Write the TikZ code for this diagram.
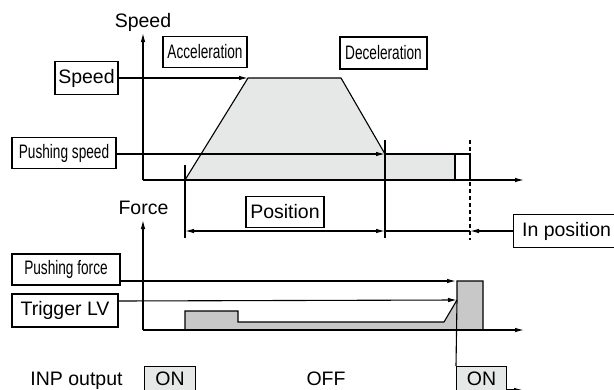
\documentclass[tikz,border=0pt]{standalone}
\usepackage{graphicx}
\usepackage{fontspec}
\setmainfont{Liberation Sans}
\usetikzlibrary{arrows.meta}
\definecolor{lightfill}{HTML}{E6E8E8}
\definecolor{forcefill}{HTML}{C8C8C8}
\newcommand{\narrowtext}[1]{\scalebox{0.7}[1]{#1}}

\begin{document}
\begin{tikzpicture}[x=1pt,y=-1pt,line width=1.1pt,
    >={Latex[length=9pt,width=4.5pt]},
    every node/.style={font=\fontsize{19.5}{22}\selectfont},
    labelbox/.style={draw,inner sep=0pt,minimum height=31pt},
    narrow/.style={font=\fontsize{19.5}{22}\selectfont},
    onbox/.style={draw,fill=lightfill,inner sep=0pt,anchor=north west,minimum height=25pt}]
      \useasboundingbox (0,0) rectangle (614,389);

      % speed profile
      \coordinate (o1) at (143,180);
      \coordinate (a) at (185,180);
      \coordinate (b) at (248,78);
      \coordinate (c) at (341,78);
      \coordinate (d) at (385,154);
      \coordinate (e) at (455,154);
      \coordinate (f) at (470,154);
      \draw[fill=lightfill] (a) -- (b) -- (c) -- (d) -- (e) -- (455,180) -- cycle;
      \draw (e) rectangle (470,180);
      \draw[->] (o1) -- (143,33);
      \draw[->] (o1) -- (524,180);
      \node[anchor=base] (speedaxis) at (143,27) {Speed};

      \node[labelbox,minimum width=63pt,minimum height=33pt] (speed) at (86.5,78) {Speed};
      \node[labelbox,narrow,minimum width=84pt] (accel) at (205,52) {\narrowtext{Acceleration}};
      \node[labelbox,narrow,minimum width=87pt,minimum height=32pt] (decel) at (383.5,53) {\narrowtext{Deceleration}};
      \node[labelbox,narrow,minimum width=104pt] (pushspeed) at (64,153) {\narrowtext{Pushing speed}};
      \draw[->] (speed.east) -- (b);
      \draw[->] (pushspeed.east |- d) -- (d);
      \draw (d) -- (f);

      % position
      \draw (185,165) -- (185,238);
      \draw (385,140) -- (385,238);
      \draw[dash pattern=on 4pt off 3pt] (470,140) -- (470,240);
      \coordinate (p1) at (185,231);
      \coordinate (p2) at (385,231);
      \coordinate (p3) at (470,231);
      \node[labelbox,minimum width=78pt] (position) at (285,212) {Position};
      \node[labelbox,anchor=west,minimum width=106pt,minimum height=33pt] (inpos) at (513,231) {In position};
      \draw[<->] (p1) -- (p2);
      \draw (p2) -- (p3);
      \draw[->] (inpos.west) -- (p3);

      % force profile
      \coordinate (o2) at (143,330);
      \coordinate (pf) at (456,281);
      \coordinate (tr) at (457,300);
      \draw[fill=forcefill] (185,330) -- (185,311) -- (238,311) -- (238,322) -- (444,322)
        -- (tr) -- (457,281) -- (483,281) -- (483,330) -- cycle;
      \draw[->] (o2) -- (143,220);
      \draw[->] (o2) -- (524,330);
      \node[anchor=base] (forceaxis) at (143.5,214) {Force};

      \node[labelbox,narrow,minimum width=108pt] (pushforce) at (66,269.5) {\narrowtext{Pushing force}};
      \node[labelbox,minimum width=106pt,minimum height=33pt] (trigger) at (65,310.5) {Trigger LV};
      \draw[->] (pushforce.east |- pf) -- (pf);
      \draw[->] (trigger.east |- 0,301) -- (tr);

      % INP output
      \node[anchor=base] (inp) at (76.5,385) {INP output};
      \node[onbox,minimum width=51pt] (onleft) at (144,366) {ON};
      \node[anchor=base] (off) at (326,385) {OFF};
      \node[onbox,minimum width=50pt] (onright) at (456,366) {ON};
      \draw (tr) -- (onright.north west);
      \draw[->] (onright.east |- 0,390) -- (523,390);
    \end{tikzpicture}
\end{document}
